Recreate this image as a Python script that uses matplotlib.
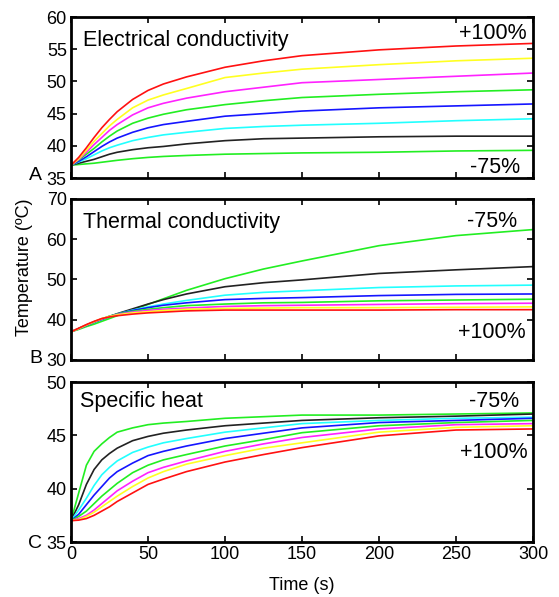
import matplotlib
matplotlib.use("Agg")
import matplotlib.pyplot as plt

plt.rcParams['font.family'] = ['Liberation Sans', 'DejaVu Sans']

# time points (s)
time = [0, 5, 10, 15, 20, 25, 30, 40, 50, 60, 75, 100, 125, 150, 200, 250, 300]

# series order: -75%, -50%, -25%, 0%, +25%, +50%, +75%, +100%
colors = ['#22ee22', '#222222', '#22ffff', '#1515ff', '#22ee22', '#ff22ff', '#ffff22', '#ff1111']

elec = [
    [37, 37.1, 37.2, 37.3, 37.45, 37.6, 37.75, 38.0, 38.2, 38.35, 38.5, 38.7, 38.8, 38.9, 39.0, 39.2, 39.3],
    [37, 37.3, 37.6, 37.9, 38.3, 38.7, 39.0, 39.4, 39.7, 39.9, 40.3, 40.8, 41.1, 41.2, 41.4, 41.5, 41.5],
    [37, 37.5, 38.0, 38.6, 39.2, 39.7, 40.1, 40.8, 41.3, 41.7, 42.1, 42.7, 43.0, 43.2, 43.5, 43.9, 44.2],
    [37, 37.6, 38.3, 39.1, 39.9, 40.6, 41.2, 42.1, 42.8, 43.3, 43.8, 44.6, 45.0, 45.4, 45.9, 46.2, 46.5],
    [37, 37.8, 38.7, 39.6, 40.6, 41.5, 42.3, 43.5, 44.3, 44.9, 45.6, 46.4, 47.0, 47.5, 48.0, 48.4, 48.7],
    [37, 37.9, 39.0, 40.2, 41.3, 42.4, 43.3, 44.8, 45.9, 46.6, 47.4, 48.4, 49.1, 49.8, 50.3, 50.8, 51.3],
    [37, 38.0, 39.3, 40.7, 41.9, 43.1, 44.1, 45.9, 47.1, 47.9, 48.9, 50.6, 51.3, 51.9, 52.6, 53.2, 53.6],
    [37, 38.2, 39.7, 41.3, 42.8, 44.1, 45.3, 47.2, 48.6, 49.6, 50.7, 52.2, 53.2, 54.0, 54.9, 55.5, 55.9],
]

therm = [
    [37, 37.6, 38.3, 38.9, 39.6, 40.3, 41.0, 42.5, 43.8, 45.2, 47.3, 50.2, 52.6, 54.6, 58.4, 60.9, 62.4],
    [37, 37.8, 38.6, 39.4, 40.1, 40.8, 41.5, 42.7, 43.9, 45.0, 46.4, 48.2, 49.2, 49.9, 51.5, 52.4, 53.2],
    [37, 37.8, 38.6, 39.4, 40.1, 40.8, 41.4, 42.4, 43.2, 43.9, 44.8, 46.1, 46.8, 47.2, 48.0, 48.4, 48.6],
    [37, 37.8, 38.6, 39.4, 40.1, 40.8, 41.4, 42.3, 43.0, 43.6, 44.2, 45.0, 45.3, 45.5, 46.0, 46.3, 46.4],
    [37, 37.8, 38.7, 39.5, 40.2, 40.9, 41.4, 42.1, 42.6, 43.0, 43.5, 43.9, 44.2, 44.3, 44.7, 44.9, 45.1],
    [37, 37.8, 38.7, 39.5, 40.2, 40.8, 41.3, 41.9, 42.3, 42.6, 42.9, 43.3, 43.5, 43.6, 43.8, 44.0, 44.1],
    [37, 37.8, 38.7, 39.5, 40.3, 40.8, 41.2, 41.7, 42.0, 42.3, 42.6, 42.8, 42.9, 43.0, 43.0, 43.1, 43.2],
    [37, 37.9, 38.8, 39.6, 40.3, 40.7, 41.0, 41.4, 41.7, 41.9, 42.2, 42.4, 42.4, 42.4, 42.4, 42.5, 42.5],
]

spec = [
    [37, 39.6, 42.2, 43.5, 44.2, 44.8, 45.3, 45.7, 46.0, 46.15, 46.3, 46.6, 46.75, 46.9, 46.9, 47.0, 47.1],
    [37, 38.5, 40.4, 41.8, 42.7, 43.3, 43.8, 44.5, 44.9, 45.2, 45.5, 45.9, 46.15, 46.4, 46.65, 46.8, 47.0],
    [37, 38.0, 39.1, 40.3, 41.3, 42.0, 42.6, 43.4, 43.9, 44.3, 44.7, 45.3, 45.7, 46.1, 46.4, 46.6, 46.7],
    [37, 37.6, 38.5, 39.4, 40.2, 41.0, 41.6, 42.4, 43.1, 43.5, 44.0, 44.7, 45.2, 45.7, 46.2, 46.4, 46.6],
    [37, 37.4, 37.9, 38.6, 39.3, 39.9, 40.5, 41.5, 42.2, 42.7, 43.2, 44.0, 44.6, 45.25, 45.9, 46.2, 46.4],
    [37, 37.2, 37.5, 38.0, 38.6, 39.2, 39.8, 40.7, 41.5, 42.0, 42.6, 43.5, 44.2, 44.8, 45.6, 46.0, 46.1],
    [37, 37.1, 37.4, 37.8, 38.3, 38.8, 39.3, 40.2, 41.0, 41.6, 42.3, 43.1, 43.8, 44.3, 45.3, 45.75, 45.9],
    [37, 37.05, 37.2, 37.5, 37.9, 38.3, 38.8, 39.6, 40.4, 40.9, 41.6, 42.5, 43.2, 43.85, 44.95, 45.5, 45.6],
]

titles = ['Electrical conductivity', 'Thermal conductivity', 'Specific heat']
letters = ['A', 'B', 'C']
ylims = [(35, 60), (30, 70), (35, 50)]
ysteps = [5, 10, 5]
xticks = [0, 50, 100, 150, 200, 250, 300]


def setup(ax, lim, step):
    ax.set_xlim(0, 300)
    ax.set_ylim(*lim)
    ax.set_xticks(xticks)
    ax.set_yticks(range(lim[0], lim[1] + 1, step))
    ax.tick_params(direction='in', top=True, right=True, length=4, width=1.2,
                   labelsize=13, pad=3)
    for s in ax.spines.values():
        s.set_linewidth(2)


fig = plt.figure(figsize=(5.59, 5.97), dpi=100)
boxes = [[0.127, 0.7018, 0.8265, 0.2697],
         [0.127, 0.397, 0.8265, 0.2697],
         [0.127, 0.0921, 0.8265, 0.268]]

axes = []
for box, data, lim, step in zip(boxes, [elec, therm, spec], ylims, ysteps):
    ax = fig.add_axes(box)
    for vals, col in zip(data, colors):
        ax.plot(time, vals, color=col, lw=1.2)
    setup(ax, lim, step)
    axes.append(ax)

axes[0].tick_params(labelbottom=False)
axes[1].tick_params(labelbottom=False)

# panel texts
axes[0].text(0.026, 0.82, titles[0], transform=axes[0].transAxes, fontsize=15.5)
axes[0].text(0.987, 0.862, '+100%', transform=axes[0].transAxes, fontsize=15.5, ha='right')
axes[0].text(0.973, 0.031, '-75%', transform=axes[0].transAxes, fontsize=15.5, ha='right')

axes[1].text(0.026, 0.822, titles[1], transform=axes[1].transAxes, fontsize=15.5)
axes[1].text(0.965, 0.828, '-75%', transform=axes[1].transAxes, fontsize=15.5, ha='right')
axes[1].text(0.983, 0.139, '+100%', transform=axes[1].transAxes, fontsize=15.5, ha='right')

axes[2].text(0.02, 0.846, titles[2], transform=axes[2].transAxes, fontsize=15.5)
axes[2].text(0.970, 0.844, '-75%', transform=axes[2].transAxes, fontsize=15.5, ha='right')
axes[2].text(0.989, 0.525, '+100%', transform=axes[2].transAxes, fontsize=15.5, ha='right')

for ax, let, yb in zip(axes, letters, [-0.012, -0.019, -0.037]):
    ax.text(-0.063, yb, let, transform=ax.transAxes, fontsize=14, ha='right')

axes[1].set_ylabel('Temperature (ºC)', fontsize=13)
axes[1].yaxis.set_label_coords(-0.082, 0.575)
axes[2].set_xlabel('Time (s)', fontsize=13, labelpad=10)

fig.savefig('out.png', dpi=100)
